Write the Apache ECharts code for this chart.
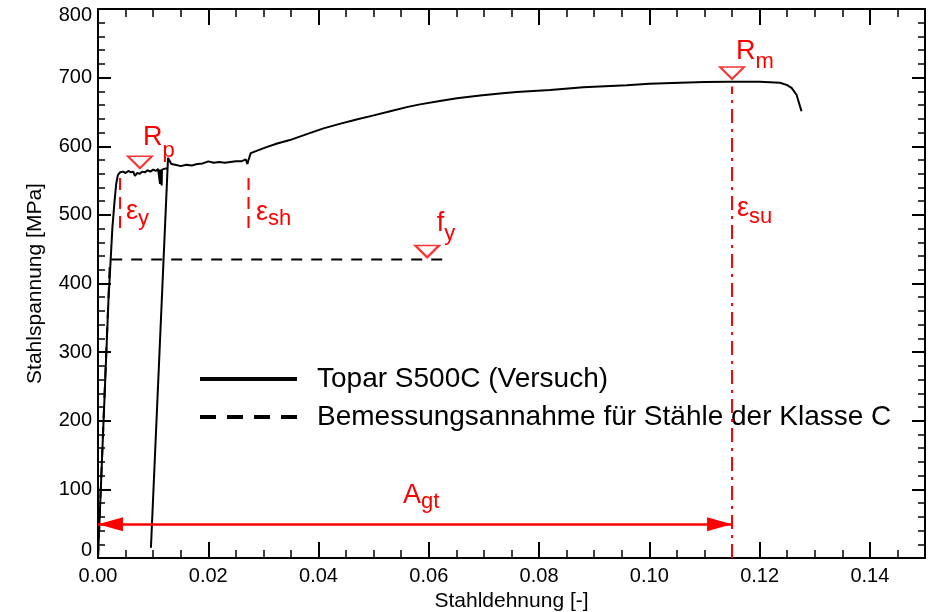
<!DOCTYPE html>
<html>
<head>
<meta charset="utf-8">
<script src="https://cdn.jsdelivr.net/npm/echarts@6/dist/echarts.min.js"></script>
<style>
  html, body { margin: 0; padding: 0; background: #ffffff; }
  #chart { width: 931px; height: 612px; }
</style>
</head>
<body>
<div id="chart"></div>
<script>
const FONT = '"Liberation Sans", Arial, Helvetica, sans-serif';
const RED = '#ff0000';
const BLACK = '#000000';

const TEST_NAME = 'Topar S500C (Versuch)';
const DESIGN_NAME = 'Bemessungsannahme für Stähle der Klasse C';

// Axis ticks
const xTickValues = [0, 0.02, 0.04, 0.06, 0.08, 0.10, 0.12, 0.14];
const xTickLabels = ['0.00', '0.02', '0.04', '0.06', '0.08', '0.10', '0.12', '0.14'];
const yTickValues = [0, 100, 200, 300, 400, 500, 600, 700, 800];
const yTickLabels = ['0', '100', '200', '300', '400', '500', '600', '700', '800'];

// Test: first loading branch with yield plateau
const load1Strain = [0, 0.0019, 0.0022, 0.0026, 0.0030, 0.0033, 0.0036, 0.0040, 0.0045, 0.0050,
  0.0055, 0.0060, 0.0064, 0.0067, 0.0071, 0.0076, 0.0080, 0.0085, 0.0090, 0.0095,
  0.0100, 0.0105, 0.0109, 0.01120, 0.01125, 0.01130, 0.01150, 0.01155, 0.01160, 0.0120, 0.0125];
const load1Stress = [0, 376, 420, 480, 520, 545, 558, 562, 563, 561,
  564, 562, 563, 557, 561, 560, 563, 562, 565, 563,
  566, 564, 567, 566, 545, 566, 567, 543, 566, 567, 568];

// Test: reloading branch, second plateau, strain hardening and necking
const load2Strain = [0.0096, 0.0127, 0.0129, 0.0133, 0.0140, 0.0150, 0.0160, 0.0170, 0.0180, 0.0190,
  0.0200, 0.0210, 0.0220, 0.0230, 0.0240, 0.0250, 0.0260, 0.0268, 0.0271, 0.0273,
  0.0277, 0.0290, 0.0303, 0.0325, 0.0348, 0.0380, 0.0409, 0.0440, 0.0469, 0.0500,
  0.0530, 0.0560, 0.0584, 0.0620, 0.0651, 0.0693, 0.0729, 0.0759, 0.0820, 0.0880,
  0.0959, 0.1000, 0.1056, 0.1100, 0.1146, 0.1200, 0.1237, 0.1250, 0.1258, 0.1267, 0.1276];
const load2Stress = [15, 583, 581, 574, 573, 571, 573, 572, 574, 575,
  578, 576, 577, 576, 577, 578, 578, 581, 574, 580,
  590, 594, 598, 604, 609, 618, 626, 633, 639, 645,
  651, 657, 661, 666, 670, 674, 677, 679, 682, 686,
  689, 691, 692.5, 693.5, 694, 694, 692.5, 689, 685, 675, 651];

// Design assumption (class C steel)
const designStrain = [0, 0.002175, 0.0633];
const designStress = [0, 435, 435];

// Characteristic values
const epsY = 0.004;
const epsSh = 0.0273;
const epsSu = 0.115;
const markerStrain = [0.0076, 0.0597, 0.115];   // Rp, fy, Rm
const markerStress = [568, 438, 698];
const agtStress = 49;

const pairs = (xs, ys) => xs.map((x, i) => [x, ys[i]]);

const annotations = [
  { main: 'R', sub: 'p',  at: [0.0076, 568], dx: 3,   dy: -44, drop: 11 },
  { main: 'R', sub: 'm',  at: [0.115, 698],  dx: 4,   dy: -41, drop: 9 },
  { main: 'f', sub: 'y',  at: [0.0597, 438], dx: 9.6, dy: -47, drop: 8 },
  { main: 'ε', sub: 'y',  at: [epsY, 557],   dx: 6,   dy: 22.5, drop: 5 },
  { main: 'ε', sub: 'sh', at: [epsSh, 557],  dx: 7.5, dy: 23, drop: 5 },
  { main: 'ε', sub: 'su', at: [epsSu, 557],  dx: 5,   dy: 19, drop: 7 },
  { main: 'A', sub: 'gt', at: [0.0575, agtStress], dx: -12, dy: -42, drop: 4 }
];

const MAIN_F = 27, SUB_F = 22;

const xFormatter = v => {
  const i = xTickValues.findIndex(t => Math.abs(t - v) < 1e-9);
  return i >= 0 ? xTickLabels[i] : '';
};
const yFormatter = v => {
  const i = yTickValues.findIndex(t => Math.abs(t - v) < 1e-9);
  if (i < 0) return '';
  if (v === 800) return '{t|' + yTickLabels[i] + '}';
  if (v === 0) return '{b|' + yTickLabels[i] + '}';
  return yTickLabels[i];
};

function xAxisDef(pos) {
  const main = pos === 'bottom';
  return {
    type: 'value', position: pos, gridIndex: 0,
    min: 0, max: 0.15, interval: 0.02,
    axisLine: { show: true, onZero: false, lineStyle: { color: BLACK, width: 2 } },
    axisTick: { show: true, inside: true, length: 16, lineStyle: { color: BLACK, width: 2 } },
    minorTick: { show: true, splitNumber: 4, length: 8, lineStyle: { color: BLACK, width: 1.5 } },
    splitLine: { show: false },
    axisLabel: {
      show: main, formatter: xFormatter, fontSize: 20, fontFamily: FONT, color: BLACK,
      margin: 8, showMaxLabel: false
    },
    name: main ? 'Stahldehnung [-]' : '',
    nameLocation: 'middle', nameGap: 32,
    nameTextStyle: { fontSize: 21, fontFamily: FONT, color: BLACK }
  };
}
function yAxisDef(pos) {
  const main = pos === 'left';
  return {
    type: 'value', position: pos, gridIndex: 0,
    min: 0, max: 800, interval: 100,
    axisLine: { show: true, onZero: false, lineStyle: { color: BLACK, width: 2 } },
    axisTick: { show: true, inside: true, length: 13, lineStyle: { color: BLACK, width: 2 } },
    minorTick: { show: true, splitNumber: 5, length: 7, lineStyle: { color: BLACK, width: 1.5 } },
    splitLine: { show: false },
    axisLabel: {
      show: main, formatter: yFormatter, fontSize: 20, fontFamily: FONT, color: BLACK, margin: 6,
      rich: {
        t: { fontSize: 20, fontFamily: FONT, color: BLACK, padding: [12, 0, 0, 0] },
        b: { fontSize: 20, fontFamily: FONT, color: BLACK, padding: [0, 0, 16, 0] }
      }
    },
    name: main ? 'Stahlspannung [MPa]' : '',
    nameLocation: 'middle', nameGap: 52, nameRotate: 90,
    nameTextStyle: { fontSize: 21, fontFamily: FONT, color: BLACK }
  };
}

const blackLine = { color: BLACK, width: 2 };

const option = {
  animation: false,
  backgroundColor: '#ffffff',
  grid: { left: 98, right: 6, top: 9, bottom: 54, containLabel: false, outerBoundsMode: 'none' },
  xAxis: [xAxisDef('bottom'), xAxisDef('top')],
  yAxis: [yAxisDef('left'), yAxisDef('right')],
  legend: {
    data: [
      { name: TEST_NAME, lineStyle: { type: 'solid' } },
      { name: DESIGN_NAME, lineStyle: { type: [16, 11] } }
    ],
    orient: 'vertical', left: 193, top: 360,
    itemWidth: 97, itemHeight: 14, itemGap: 10,
    lineStyle: { width: 4, color: BLACK },
    itemStyle: { opacity: 0 },
    selectedMode: false,
    textStyle: { fontSize: 28, fontFamily: FONT, color: BLACK, padding: [0, 0, 0, 15] }
  },
  series: [
    {
      name: TEST_NAME, type: 'line', data: pairs(load1Strain, load1Stress),
      symbol: 'none', showSymbol: false, lineStyle: blackLine, itemStyle: { color: BLACK }, z: 4, silent: true
    },
    {
      name: TEST_NAME, type: 'line', data: pairs(load2Strain, load2Stress),
      symbol: 'none', showSymbol: false, lineStyle: blackLine, itemStyle: { color: BLACK }, z: 4, silent: true
    },
    {
      name: DESIGN_NAME, type: 'line', data: pairs(designStrain, designStress),
      symbol: 'none', showSymbol: false,
      lineStyle: { color: BLACK, width: 2, type: [11, 9] }, itemStyle: { color: BLACK }, z: 3, silent: true
    },
    {
      type: 'line', data: [[epsY, 481], [epsY, 557]], symbol: 'none', silent: true,
      lineStyle: { color: RED, width: 2, type: [12, 7] }, z: 5
    },
    {
      type: 'line', data: [[epsSh, 481], [epsSh, 557]], symbol: 'none', silent: true,
      lineStyle: { color: RED, width: 2, type: [12, 7] }, z: 5
    },
    {
      type: 'line', data: [[epsSu, 0], [epsSu, 687]], symbol: 'none', silent: true,
      lineStyle: { color: RED, width: 2, type: [14, 6, 3, 6] }, z: 5,
      markLine: {
        silent: true, animation: false,
        symbol: ['triangle', 'triangle'],
        symbolSize: [14, 25],
        symbolOffset: [[0, 12.5], [0, 12.5]],
        label: { show: false },
        lineStyle: { color: RED, width: 2.5, type: 'solid' },
        itemStyle: { color: RED },
        emphasis: { disabled: true },
        data: [[{ coord: [0, agtStress] }, { coord: [epsSu, agtStress] }]]
      }
    },
    {
      type: 'scatter', data: pairs(markerStrain, markerStress), silent: true,
      symbol: 'triangle', symbolRotate: 180, symbolSize: [24, 12], symbolOffset: [0, -6],
      itemStyle: { color: 'rgba(0,0,0,0)', borderColor: RED, borderWidth: 2 }, z: 6
    }
  ]
};

const chart = echarts.init(document.getElementById('chart'), null, { renderer: 'canvas' });
chart.setOption(option);

// Red labels with subscripts, anchored to the characteristic points
const pad = 0.85 * (MAIN_F - SUB_F);
const graphics = annotations.map(a => {
  const p = chart.convertToPixel({ gridIndex: 0 }, a.at);
  return {
    type: 'text', silent: true, z: 50,
    x: p[0] + a.dx, y: p[1] + a.dy,
    style: {
      text: '{m|' + a.main + '}{s|' + a.sub + '}',
      align: 'left', verticalAlign: 'top',
      rich: {
        m: { fontSize: MAIN_F, fontFamily: FONT, fill: RED, verticalAlign: 'top' },
        s: { fontSize: SUB_F, fontFamily: FONT, fill: RED, verticalAlign: 'top', padding: [pad + a.drop, 0, 0, 0] }
      }
    }
  };
});
chart.setOption({ graphic: graphics });
</script>
</body>
</html>
